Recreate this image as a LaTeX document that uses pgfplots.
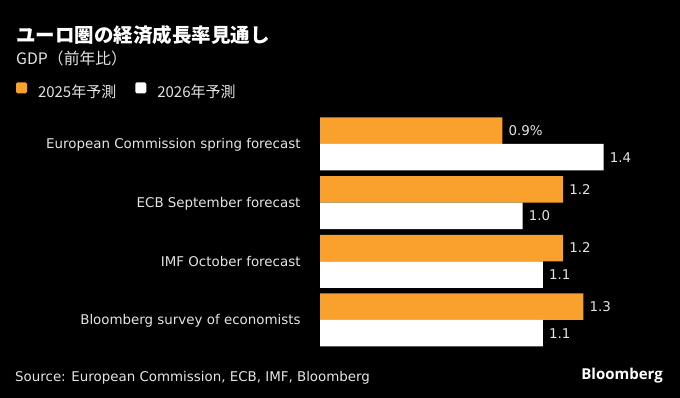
\documentclass[border=0pt]{standalone}
\usepackage{pgfplots}
\pgfplotsset{compat=1.18}
\usepackage{fontspec}
\setmainfont{DejaVu Sans}
\newfontfamily\cjk{Noto Sans CJK JP}
\newfontfamily\logo{Open Sans}
\definecolor{orng}{RGB}{250,160,45}
\definecolor{lab}{RGB}{228,228,228}
\newcommand{\labfont}{\fontsize{13.4pt}{16pt}\selectfont}
\begin{document}
\begin{tikzpicture}
\useasboundingbox (0,0) rectangle (680pt,398pt);
\fill[black] (0,0) rectangle (680pt,398pt);
\node[anchor=base west, inner sep=0pt, text=white, font=\cjk\bfseries\fontsize{19.5pt}{22pt}\selectfont] at (16pt,355pt) {ユーロ圏の経済成長率見通し};
\node[anchor=base west, inner sep=0pt, text=lab, font=\cjk\fontsize{15.8pt}{18pt}\selectfont] at (16pt,333.7pt) {GDP（前年比）};
\node[anchor=base west, inner sep=0pt, text=lab, font=\labfont] at (15pt,16.3pt) {Source: European Commission, ECB, IMF, Bloomberg};
\node[anchor=base east, inner sep=0pt, text=white, font=\logo\bfseries\fontsize{15pt}{18pt}\selectfont] at (663pt,18pt) {Bloomberg};
\begin{axis}[
  at={(320pt,48.7pt)}, anchor=south west,
  scale only axis,
  width=354.55pt, height=234.7pt,
  xmin=0, xmax=1.75,
  ymin=-0.5, ymax=3.5,
  xbar, bar width=26.5pt,
  axis line style={draw=none},
  xtick=\empty,
  ytick={0,1,2,3},
  yticklabels={Bloomberg survey of economists, IMF October forecast, ECB September forecast, European Commission spring forecast},
  major tick length=0pt,
  ytick style={draw=none},
  yticklabel style={anchor=east, inner sep=0pt, xshift=-19.3pt, text=lab, font=\labfont, text height=9.8pt, text depth=0pt},
  point meta=explicit symbolic,
  nodes near coords,
  every node near coord/.append style={anchor=west, inner sep=0pt, xshift=6pt, text=lab, font=\labfont, text height=9.8pt, text depth=0pt},
  legend columns=2,
  legend style={at={(axis description cs:-0.8574,1.1018)}, anchor=west, draw=none, fill=none, inner sep=0pt, outer sep=0pt,
    nodes={inner sep=0pt, text=lab, font=\cjk\fontsize{15pt}{18pt}\selectfont},
    /tikz/every odd column/.append style={column sep=11pt},
    /tikz/every even column/.append style={column sep=19pt}},
  legend image code/.code={\fill[#1, draw=none, rounded corners=1.5pt] (0pt,-1.3pt) rectangle (11pt,9.7pt);},
]
\addplot[fill=orng, draw=none, bar shift=13.25pt] coordinates {
  (1.3,0) [1.3]
  (1.2,1) [1.2]
  (1.2,2) [1.2]
  (0.9,3) [0.9\%]
};
\addlegendentry{2025年予測}
\addplot[fill=white, draw=none, bar shift=-13.25pt] coordinates {
  (1.1,0) [1.1]
  (1.1,1) [1.1]
  (1.0,2) [1.0]
  (1.4,3) [1.4]
};
\addlegendentry{2026年予測}
\end{axis}
\end{tikzpicture}
\end{document}
